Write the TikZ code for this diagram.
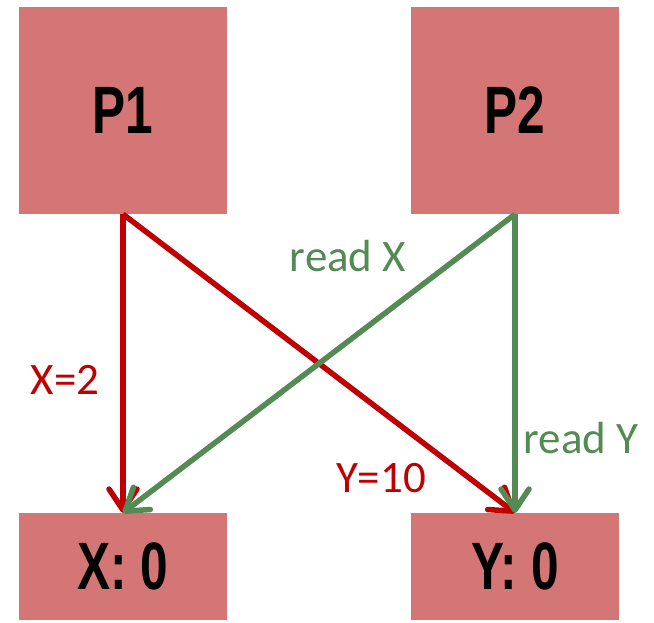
\documentclass[tikz,border=0pt]{standalone}
\usepackage{fontspec}
\setmainfont{Carlito}
\newfontfamily\boxfont{Liberation Sans}
\usetikzlibrary{arrows.meta}
\definecolor{boxfill}{HTML}{D47676}
\definecolor{redline}{HTML}{C00000}
\definecolor{greenline}{HTML}{548A54}
\tikzset{
  procbox/.style={fill=boxfill, draw=none, minimum width=208pt, inner sep=0pt,
    font=\boxfont\bfseries\fontsize{67}{70}\selectfont},
  conn/.style={line width=5.5pt, -{Straight Barb[length=21pt,width=28pt,line cap=round,line join=round]}},
  redconn/.style={conn, draw=redline},
  greenconn/.style={conn, draw=greenline},
  lbl/.style={font=\fontsize{45}{50}\selectfont, inner sep=0pt},
}
\begin{document}
\begin{tikzpicture}[x=1pt,y=-1pt]
\useasboundingbox (0,0) rectangle (654,623);
\node[procbox, minimum height=207pt] (p1) at (123,110.5) {\scalebox{0.74}[1]{P1}};
\node[procbox, minimum height=207pt] (p2) at (515,110.5) {\scalebox{0.74}[1]{P2}};
\node[procbox, minimum height=107pt] (x0) at (123,566.5) {\scalebox{0.74}[1]{X: 0}};
\node[procbox, minimum height=107pt] (y0) at (515,566.5) {\scalebox{0.74}[1]{Y: 0}};
\draw[redconn] (p1.south) -- (x0.north);
\draw[redconn] (p1.south) -- (y0.north);
\draw[greenconn] (p2.south) -- (x0.north);
\draw[greenconn] (p2.south) -- (y0.north);
\node[lbl, text=redline] (lx) at (65,380) {X=2};
\node[lbl, text=redline] (ly) at (381,478) {Y=10};
\node[lbl, text=greenline] (rx) at (348,256) {read X};
\node[lbl, text=greenline] (ry) at (581,438) {read Y};
\end{tikzpicture}
\end{document}
